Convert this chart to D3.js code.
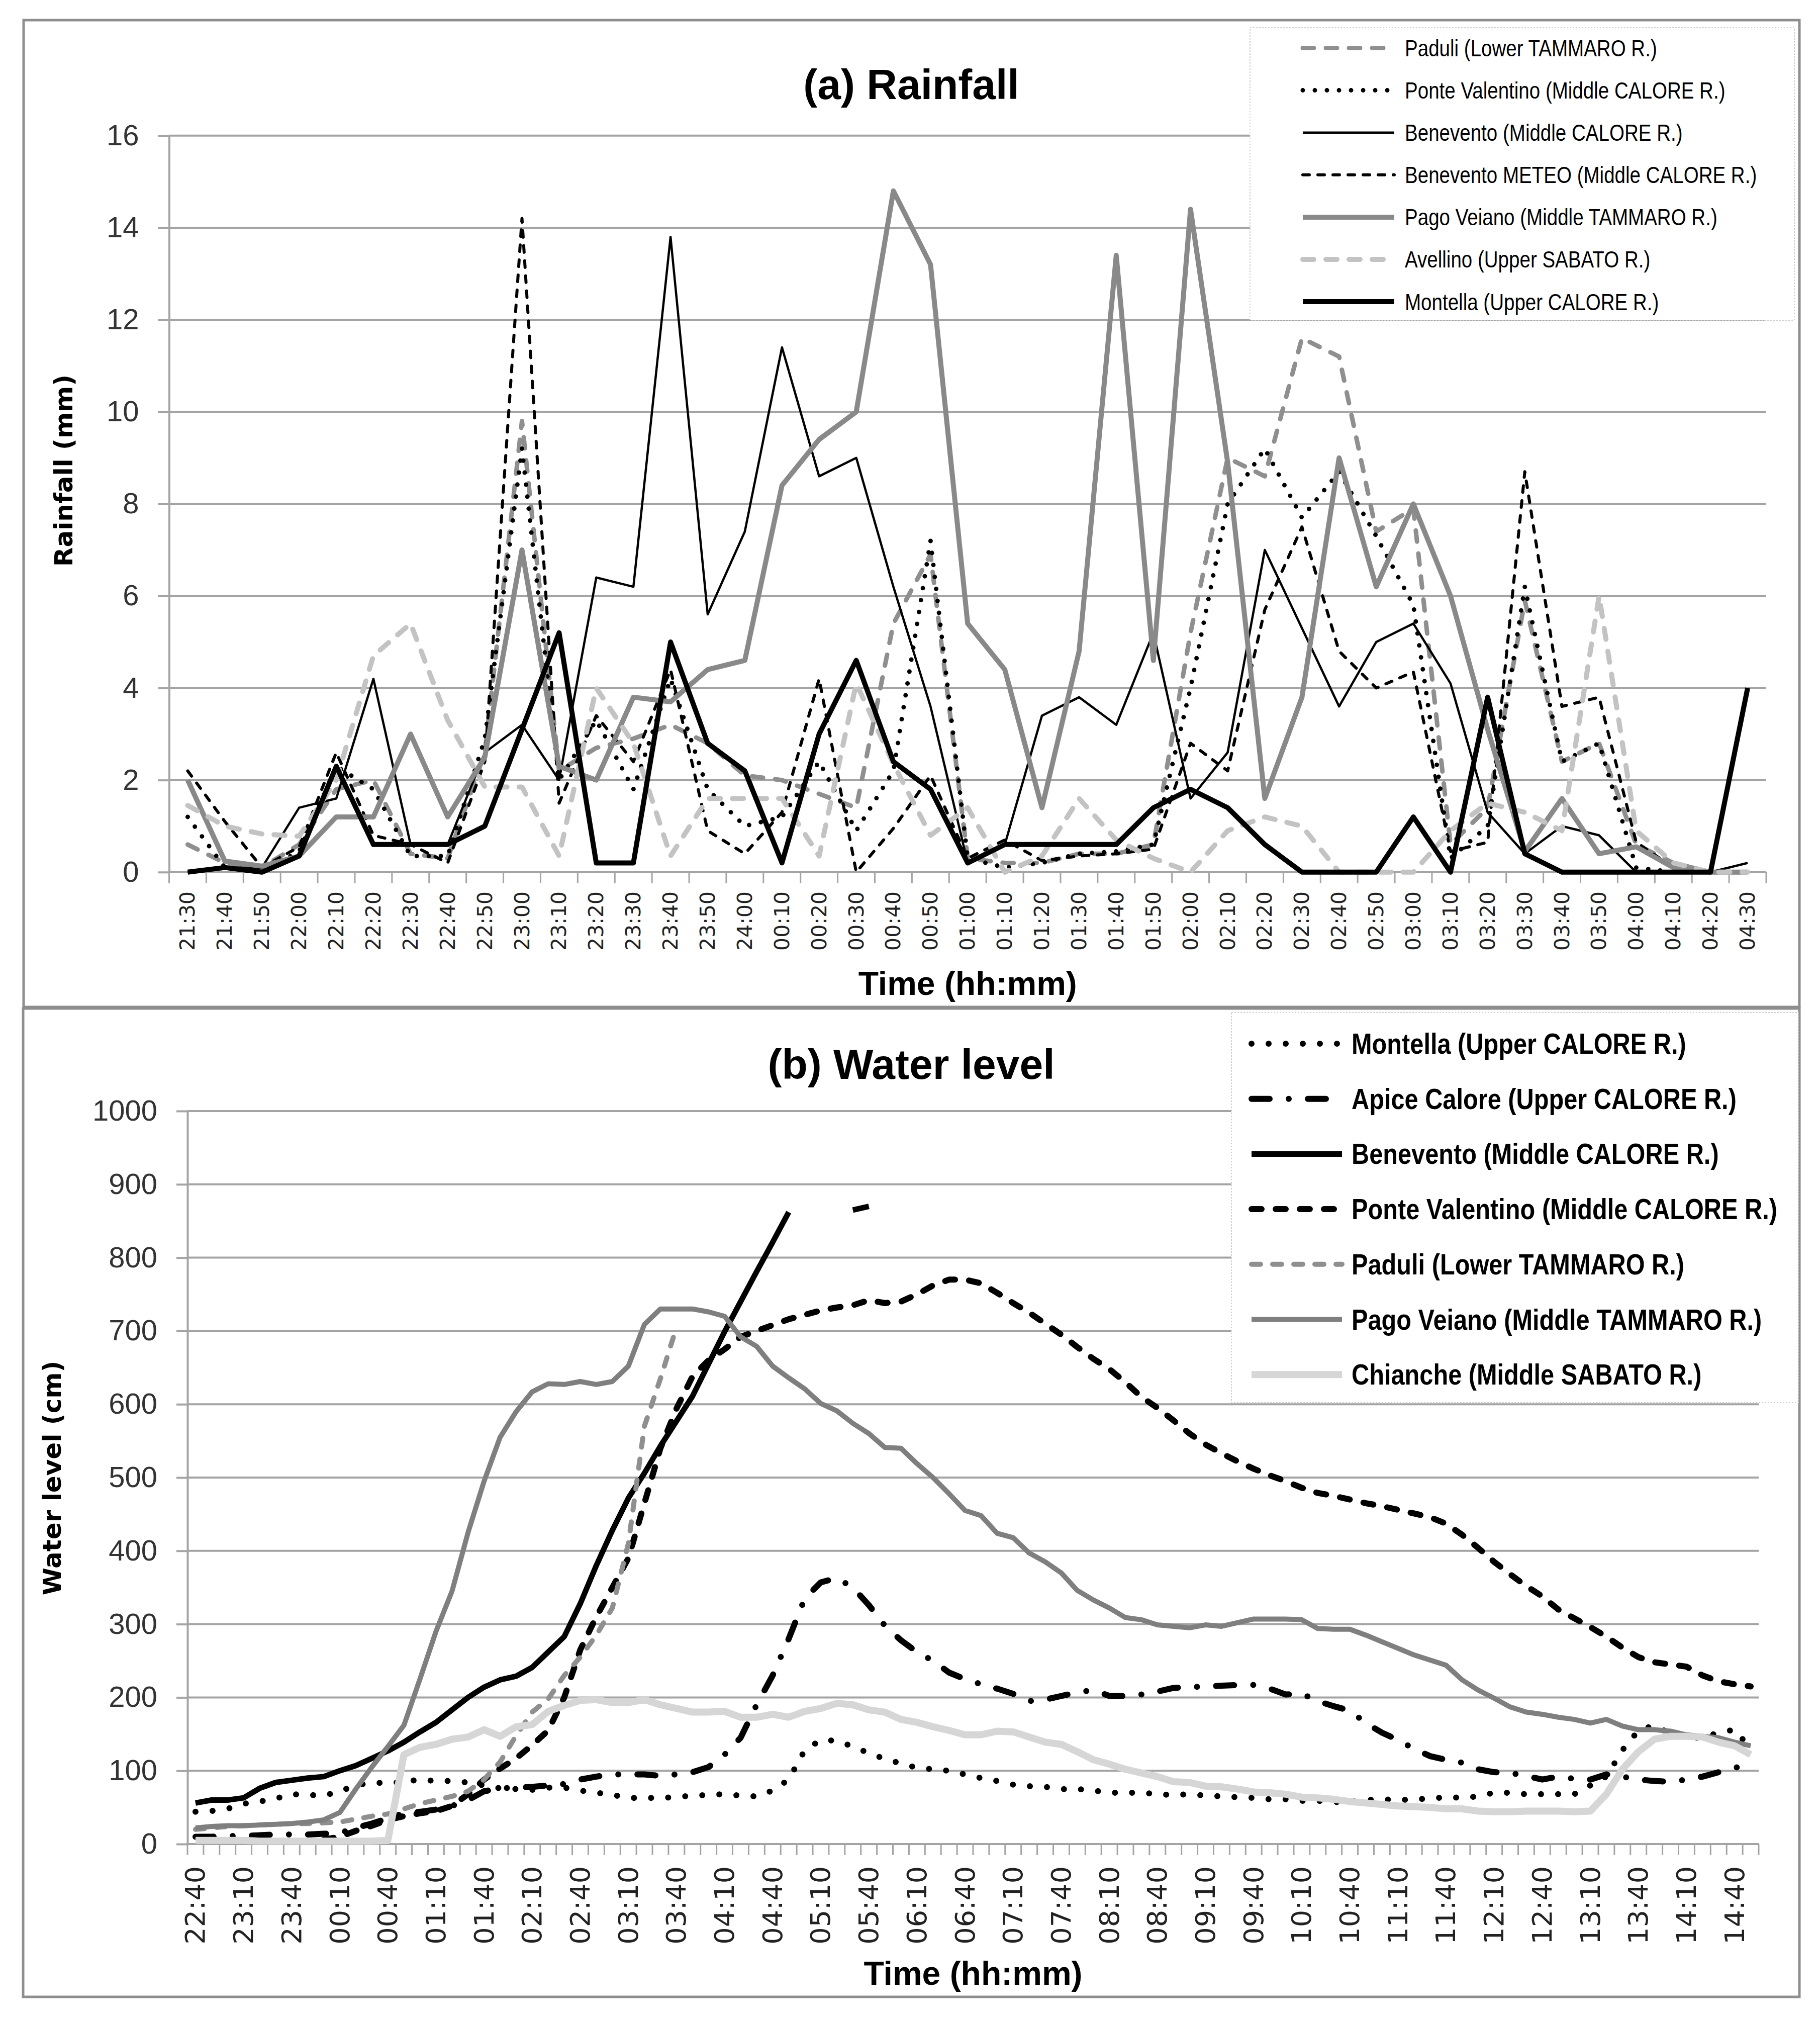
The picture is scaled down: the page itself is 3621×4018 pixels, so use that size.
<!DOCTYPE html>
<html>
<head>
<meta charset="utf-8">
<script src="https://cdn.jsdelivr.net/npm/d3@7"></script>
<style>
  body { margin: 0; background: #fff; }
  svg { display: block; }
</style>
</head>
<body>
<div id="chart"></div>
<script>
// ---- (a) Rainfall, mm per 10 min ----
const rainTimes = ["21:30","21:40","21:50","22:00","22:10","22:20","22:30","22:40","22:50","23:00",
  "23:10","23:20","23:30","23:40","23:50","24:00","00:10","00:20","00:30","00:40","00:50",
  "01:00","01:10","01:20","01:30","01:40","01:50","02:00","02:10","02:20","02:30","02:40","02:50",
  "03:00","03:10","03:20","03:30","03:40","03:50","04:00","04:10","04:20","04:30"];
const rainTicks = [0, 2, 4, 6, 8, 10, 12, 14, 16];

const rainPaduli = [0.6,0.2,0.1,0.6,1.8,2.0,0.4,0.3,2.6,9.8,2.2,2.7,2.9,3.2,2.8,2.1,2.0,1.7,1.4,5.4,6.9,
  0.3,0.2,0.2,0.4,0.4,0.6,5.2,9.0,8.6,11.6,11.2,7.4,7.9,0.6,1.4,5.9,2.4,2.8,0.6,0.2,0,0];
const rainPonte = [1.2,0.1,0,0.45,2.3,1.8,0.35,0.35,2.9,9.2,2.0,3.3,1.8,4.2,1.8,1.0,1.2,2.4,0.9,2.2,7.2,
  0.3,0.1,0.2,0.4,0.45,0.6,4.0,8.0,9.2,7.7,8.7,7.3,5.8,0.3,1.0,6.2,2.4,2.8,0.1,0,0,0];
const rainBenevento = [0,0.1,0.1,1.4,1.6,4.2,0.6,0.6,2.6,3.2,2.0,6.4,6.2,13.8,5.6,7.4,11.4,8.6,9.0,6.2,3.6,
  0.2,0.6,3.4,3.8,3.2,5.2,1.6,2.6,7.0,5.3,3.6,5.0,5.4,4.1,1.3,0.4,1.0,0.8,0,0,0,0.2];
const rainMeteo = [2.2,1.1,0.1,0.55,2.6,0.8,0.6,0.2,2.4,14.2,1.5,3.4,2.4,4.4,0.9,0.4,1.3,4.2,0,0.95,2.1,
  0.3,0.7,0.25,0.35,0.4,0.5,2.8,2.2,5.7,7.5,4.8,4.0,4.35,0.45,0.65,8.7,3.6,3.8,0.65,0.1,0,0];
const rainPago = [2.0,0.24,0.13,0.35,1.2,1.2,3.0,1.2,2.5,7.0,2.3,2.0,3.8,3.7,4.4,4.6,8.4,9.4,10.0,14.8,13.2,
  5.4,4.4,1.4,4.8,13.4,4.6,14.4,8.9,1.6,3.8,9.0,6.2,8.0,6.0,3.1,0.45,1.6,0.4,0.55,0.1,0,0];
const rainAvellino = [1.45,1.0,0.83,0.78,2.0,4.7,5.4,3.3,1.85,1.85,0.35,4.0,2.8,0.35,1.6,1.6,1.6,0.35,4.1,2.35,0.8,
  1.4,0,0.35,1.6,0.7,0.3,0,0.9,1.2,1.0,0,0,0,0.9,1.5,1.3,0.9,6.0,0.9,0.2,0,0];
const rainMontella = [0,0.1,0,0.35,2.3,0.6,0.6,0.6,1.0,3.1,5.2,0.2,0.2,5.0,2.8,2.2,0.2,3.0,4.6,2.4,1.8,
  0.2,0.6,0.6,0.6,0.6,1.4,1.8,1.4,0.6,0,0,0,1.2,0,3.8,0.4,0,0,0,0,0,4.0];

// ---- (b) Water level, cm ----
const levelTimes = ("22:40 22:50 23:00 23:10 23:20 23:30 23:40 23:50 " +
  "00:00 00:10 00:20 00:30 00:40 00:50 01:00 01:10 01:20 01:30 01:40 01:50 " +
  "02:00 02:10 02:20 02:30 02:40 02:50 03:00 03:10 03:20 03:30 03:40 03:50 " +
  "04:00 04:10 04:20 04:30 04:40 04:50 05:00 05:10 05:20 05:30 05:40 05:50 " +
  "06:00 06:10 06:20 06:30 06:40 06:50 07:00 07:10 07:20 07:30 07:40 07:50 " +
  "08:00 08:10 08:20 08:30 08:40 08:50 09:00 09:10 09:20 09:30 09:40 09:50 " +
  "10:00 10:10 10:20 10:30 10:40 10:50 11:00 11:10 11:20 11:30 11:40 11:50 " +
  "12:00 12:10 12:20 12:30 12:40 12:50 13:00 13:10 13:20 13:30 13:40 13:50 " +
  "14:00 14:10 14:20 14:30 14:40 14:50").split(" ");
const levelTickLabels = ["22:40","23:10","23:40","00:10","00:40","01:10","01:40","02:10","02:40",
  "03:10","03:40","04:10","04:40","05:10","05:40","06:10","06:40","07:10","07:40","08:10","08:40",
  "09:10","09:40","10:10","10:40","11:10","11:40","12:10","12:40","13:10","13:40","14:10","14:40"];
const levelTicks = [0, 100, 200, 300, 400, 500, 600, 700, 800, 900, 1000];

const levelMontella = [44,45,48,55,58,62,68,67,66,72, 80,84,83,85,88,86,86,84,80,76,
  75,74,77,77,73,70,67,63,63,63, 64,66,67,68,66,65,73,88,128,142,
  141,133,124,116,110,104,102,100,95,90, 86,81,79,78,75,75,73,70,70,70,
  68,67,68,66,65,64,63,61,61,59, 59,57,58,60,61,60,61,62,64,63,
  65,70,70,68,68,68,68,80,92,128, 155,162,150,145,145,152,156,130];
const levelApice = [10,10,11,11,12,13,13,13,14,15, 22,28,35,42,44,47,52,60,72,76,
  77,78,80,82,88,92,95,95,95,93, 95,98,105,122,145,190,230,280,335,357,
  363,350,326,298,278,262,250,234,225,218, 212,205,195,197,202,207,210,202,202,204,
  208,213,214,215,216,217,217,212,204,205, 195,188,182,165,152,142,130,120,115,111,
  102,98,97,93,88,92,89,88,95,92, 88,86,85,88,92,98,104,109];
const levelBenevento = [56,60,60,63,76,84,87,90,92,100, 107,117,127,139,153,166,183,200,214,224,
  229,241,262,283,328,380,428,472,506,543, 577,611,655,699,740,781,821,862,null,null,
  null,865,870,null,null,null,null,null,null,null, null,null,null,null,null,null,null,null,null,null,
  null,null,null,null,null,null,null,null,null,null, null,null,null,null,null,null,null,null,null,null,
  null,null,null,null,null,null,null,null,null,null, null,null,null,null,null,null,null,null];
const levelPonte = [null,null,null,null,null,null,null,null,6,10, 18,25,33,38,42,45,52,68,88,103,
  117,135,155,200,265,310,350,390,465,540, 594,638,660,675,692,700,708,716,722,728,
  732,735,742,738,740,750,762,770,770,765, 752,738,725,710,695,678,662,648,630,610,
  595,578,560,545,533,522,512,503,495,486, 479,475,470,465,461,456,451,446,437,422,
  404,385,368,352,338,320,308,296,283,268, 255,248,245,242,230,222,218,215];
const levelPaduli = [20,22,24,25,26,27,28,28,29,30, 34,38,41,48,55,60,65,72,88,112,
  148,180,198,230,255,285,322,410,570,635, 705,null,null,null,null,null,null,null,null,null,
  null,null,null,null,null,null,null,null,null,null, null,null,null,null,null,null,null,null,null,null,
  null,null,null,null,null,null,null,null,null,null, null,null,null,null,null,null,null,null,null,null,
  null,null,null,null,null,null,null,null,null,null, null,null,null,null,null,null,null,null];
const levelPago = [22,24,25,25,26,27,28,30,33,43, 75,105,133,162,225,290,345,425,495,555,
  590,617,628,627,631,627,631,652,709,730, 730,730,726,720,692,679,652,636,621,601,
  591,574,560,541,540,519,500,478,455,448, 424,418,397,385,370,346,333,322,309,306,
  299,297,295,299,297,302,307,307,307,306, 294,293,293,285,276,267,258,251,244,224,
  210,199,187,180,177,173,170,165,170,161, 156,156,154,149,147,145,139,134];
const levelChianche = [5,5,5,5,4,4,4,4,4,4, 4,4,5,122,132,136,143,146,156,147,
  160,163,181,189,196,197,193,193,197,190, 185,180,180,181,173,173,177,173,181,185,
  192,190,183,180,170,166,160,155,149,149, 154,153,146,139,136,126,115,109,102,97,
  92,85,84,79,78,75,71,70,68,64, 63,61,58,56,54,52,51,50,48,48,
  45,44,44,45,45,45,44,45,68,102, 126,143,147,147,146,139,134,122];

const W = 3621, H = 4018;
const gridColor = "#a4a4a4";

const svg = d3.select("#chart").append("svg")
  .attr("width", W).attr("height", H)
  .attr("viewBox", `0 0 ${W} ${H}`);
svg.append("rect").attr("width", W).attr("height", H).attr("fill", "#fff");

class LinePanel {
  constructor(svg, cfg) {
    this.svg = svg;
    this.cfg = cfg;
    this.init();
  }

  init() {
    let vis = this;
    const p = vis.cfg;
    const g = vis.svg.append("g");

    // panel frame
    g.append("rect")
      .attr("x", p.frame[0]).attr("y", p.frame[1])
      .attr("width", p.frame[2]).attr("height", p.frame[3])
      .attr("fill", "#fff").attr("stroke", "#8e8e8e").attr("stroke-width", 5);

    vis.x = d3.scaleBand().domain(p.times).range([p.left, p.right]);
    vis.y = d3.scaleLinear().domain([p.yTicks[0], p.yTicks[p.yTicks.length - 1]]).range([p.bottom, p.top]);
    const cx = d => vis.x(d) + vis.x.bandwidth() / 2;

    g.selectAll(null).data(p.yTicks.slice(1)).join("line")
      .attr("x1", p.left).attr("x2", p.right)
      .attr("y1", d => vis.y(d)).attr("y2", d => vis.y(d))
      .attr("stroke", gridColor).attr("stroke-width", 4);

    const yAxis = g.append("g")
      .attr("transform", `translate(${p.left},0)`)
      .call(d3.axisLeft(vis.y).tickValues(p.yTicks).tickFormat(d3.format("d"))
        .tickSize(22).tickSizeOuter(0).tickPadding(38));
    yAxis.select(".domain").attr("stroke", gridColor).attr("stroke-width", 4);
    yAxis.selectAll(".tick line").attr("stroke", gridColor).attr("stroke-width", 4);
    yAxis.selectAll(".tick text")
      .style("font-family", "'Liberation Sans', Arial, sans-serif")
      .style("font-size", "58px").attr("fill", "#333");

    // category axis
    g.append("line")
      .attr("x1", p.left).attr("x2", p.right)
      .attr("y1", p.bottom).attr("y2", p.bottom)
      .attr("stroke", gridColor).attr("stroke-width", 4);
    g.selectAll(null).data(p.times.concat(["end"])).join("line")
      .attr("x1", d => d === "end" ? p.right : vis.x(d))
      .attr("x2", d => d === "end" ? p.right : vis.x(d))
      .attr("y1", p.bottom).attr("y2", p.bottom + 22)
      .attr("stroke", gridColor).attr("stroke-width", 3);
    g.selectAll(null).data(p.labels).join("text")
      .attr("transform", d => `translate(${cx(d)},${p.bottom + p.labelGap}) rotate(-90)`)
      .attr("text-anchor", "end").attr("dominant-baseline", "central")
      .style("font-family", "'DejaVu Sans', Verdana, sans-serif")
      .style("font-size", p.labelSize + "px").attr("fill", "#222")
      .text(d => d);

    // titles
    g.append("text").attr("x", p.titleX).attr("y", p.titleY)
      .attr("text-anchor", "middle")
      .style("font-family", "'Liberation Sans', Arial, sans-serif")
      .style("font-weight", "bold").style("font-size", "84px")
      .text(p.title);
    g.append("text")
      .attr("transform", `translate(${p.yTitleX},${p.yTitleY}) rotate(-90)`)
      .attr("text-anchor", "middle").attr("dominant-baseline", "central")
      .style("font-family", "'DejaVu Sans', Verdana, sans-serif")
      .style("font-weight", "bold").style("font-size", "50px")
      .text(p.yTitle);
    g.append("text").attr("x", (p.left + p.right) / 2).attr("y", p.xTitleY)
      .attr("text-anchor", "middle")
      .style("font-family", "'Liberation Sans', Arial, sans-serif")
      .style("font-weight", "bold").style("font-size", "66px")
      .text("Time (hh:mm)");

    // legend box
    const lg = p.legend;
    g.append("rect")
      .attr("x", lg.box[0]).attr("y", lg.box[1]).attr("width", lg.box[2]).attr("height", lg.box[3])
      .attr("fill", "#fff").attr("stroke", "#cfcfcf").attr("stroke-width", 2)
      .attr("stroke-dasharray", "3 3");

    const line = d3.line()
      .defined(d => d.v != null)
      .x(d => cx(d.t))
      .y(d => vis.y(d.v));

    const styled = (sel, s) => sel
      .attr("fill", "none").attr("stroke", s.color).attr("stroke-width", s.width)
      .attr("stroke-dasharray", s.dash || null)
      .attr("stroke-linecap", s.dash ? "round" : "butt")
      .attr("stroke-linejoin", "round");

    p.series.forEach((s, k) => {
      const pts = s.values.map((v, i) => ({ t: p.times[i], v: v }));
      g.append("path").datum(pts).attr("d", line).call(styled, s);

      const ly = lg.y0 + k * lg.step;
      g.append("line")
        .attr("x1", lg.x1).attr("x2", lg.x2).attr("y1", ly).attr("y2", ly)
        .call(styled, s);
      // narrow face is not installed, so squeeze the regular one
      g.append("text")
        .attr("transform", `translate(${lg.tx},${ly}) scale(${lg.squeeze},1)`)
        .attr("dominant-baseline", "central")
        .style("font-family", "'Liberation Sans', Arial, sans-serif")
        .style("font-size", lg.size + "px").style("font-weight", lg.weight)
        .text(s.name);
    });
  }
}

new LinePanel(svg, {
  frame: [47, 40, 3533, 1963],
  times: rainTimes, labels: rainTimes, yTicks: rainTicks,
  left: 336.5, right: 3514, top: 269.8, bottom: 1734.8,
  labelGap: 38, labelSize: 41,
  title: "(a) Rainfall", titleX: 1813, titleY: 197,
  yTitle: "Rainfall (mm)", yTitleX: 127, yTitleY: 936, xTitleY: 1979,
  legend: { box: [2487, 55, 1083, 582], x1: 2592, x2: 2774, tx: 2795, y0: 95.5, step: 84.1,
    size: 47, weight: "normal", squeeze: 0.82 },
  series: [
    { name: "Paduli (Lower TAMMARO R.)", values: rainPaduli, color: "#8f8f8f", width: 9, dash: "22 24" },
    { name: "Ponte Valentino (Middle CALORE R.)", values: rainPonte, color: "#000", width: 9, dash: "0 24" },
    { name: "Benevento (Middle CALORE R.)", values: rainBenevento, color: "#000", width: 4.5 },
    { name: "Benevento METEO (Middle CALORE R.)", values: rainMeteo, color: "#000", width: 6, dash: "13 17" },
    { name: "Pago Veiano (Middle TAMMARO R.)", values: rainPago, color: "#898989", width: 10 },
    { name: "Avellino (Upper SABATO R.)", values: rainAvellino, color: "#c3c3c3", width: 10, dash: "22 24" },
    { name: "Montella (Upper CALORE R.)", values: rainMontella, color: "#000", width: 10 }
  ]
});

new LinePanel(svg, {
  frame: [46, 2006, 3534, 1966],
  times: levelTimes, labels: levelTickLabels, yTicks: levelTicks,
  left: 373, right: 3499, top: 2210, bottom: 3668,
  labelGap: 44, labelSize: 54,
  title: "(b) Water level", titleX: 1813, titleY: 2146,
  yTitle: "Water level (cm)", yTitleX: 104, yTitleY: 2940, xTitleY: 3948,
  legend: { box: [2450, 2014, 1128, 776], x1: 2490, x2: 2670, tx: 2689, y0: 2076, step: 109.7,
    size: 58, weight: "bold", squeeze: 0.84 },
  series: [
    { name: "Montella (Upper CALORE R.)", values: levelMontella, color: "#000", width: 12, dash: "0 34" },
    { name: "Apice Calore (Upper CALORE R.)", values: levelApice, color: "#000", width: 12, dash: "36 38 0 38" },
    { name: "Benevento (Middle CALORE R.)", values: levelBenevento, color: "#000", width: 11 },
    { name: "Ponte Valentino (Middle CALORE R.)", values: levelPonte, color: "#000", width: 12, dash: "20 28" },
    { name: "Paduli (Lower TAMMARO R.)", values: levelPaduli, color: "#8f8f8f", width: 10, dash: "18 24" },
    { name: "Pago Veiano (Middle TAMMARO R.)", values: levelPago, color: "#7f7f7f", width: 10 },
    { name: "Chianche (Middle SABATO R.)", values: levelChianche, color: "#d6d6d6", width: 14 }
  ]
});
</script>
</body>
</html>
